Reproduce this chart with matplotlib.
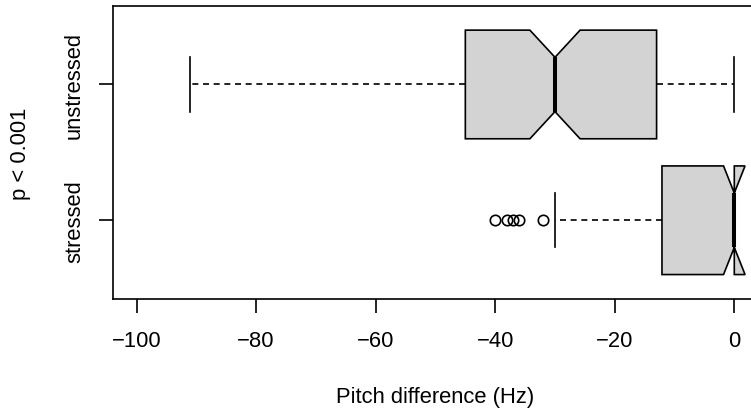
import matplotlib
matplotlib.use("Agg")
import matplotlib.pyplot as plt

plt.rcParams['font.family'] = ['Liberation Sans', 'DejaVu Sans']

# data (Hz)
groups = ['stressed', 'unstressed']
whislo = [-30, -91]
q1 = [-12.1, -45]
med = [0, -30]
q3 = [0, -13]
whishi = [0, 0]
cilo = [-1.8, -34.2]
cihi = [1.8, -25.8]
fliers = [[-40, -38, -37, -36, -32], []]
xticks = [-100, -80, -60, -40, -20, 0]

stats = []
for i, g in enumerate(groups):
    stats.append(dict(label=g, whislo=whislo[i], q1=q1[i], med=med[i], q3=q3[i],
                      whishi=whishi[i], cilo=cilo[i], cihi=cihi[i], fliers=fliers[i]))

fig = plt.figure(figsize=(7.51, 4.10), dpi=100)
ax = fig.add_axes([112.7 / 751, 110 / 410, 645.5 / 751, 293.3 / 410])

lw = 1.2
ax.bxp(stats, positions=[1, 2], widths=0.8, orientation='horizontal',
       shownotches=True, patch_artist=True,
       boxprops=dict(facecolor='#d3d3d3', edgecolor='black', linewidth=lw),
       medianprops=dict(color='black', linewidth=2.9, solid_capstyle='butt'),
       whiskerprops=dict(color='black', linewidth=lw, linestyle=(0, (3.6, 2.8))),
       capprops=dict(color='black', linewidth=lw),
       flierprops=dict(marker='o', markersize=7.5, markerfacecolor='none',
                       markeredgecolor='black', markeredgewidth=lw))

ax.set_xlim(-104, 4)
ax.set_ylim(0.42, 2.58)
ax.set_xticks(xticks)
ax.set_xticklabels([str(v).replace('-', '\u2212') for v in xticks], fontsize=15.8)
ax.set_yticks([1, 2])
ax.set_yticklabels(groups, fontsize=15.8, rotation=90, va='center')
ax.tick_params(axis='both', length=10, width=lw, color='black')
ax.tick_params(axis='x', pad=12)
ax.tick_params(axis='y', pad=10)
for s in ax.spines.values():
    s.set_linewidth(lw)

ax.set_xlabel('Pitch difference (Hz)', fontsize=15.8, va='baseline')
ax.xaxis.set_label_coords(0.5, -0.3495)
ax.set_ylabel('p < 0.001', fontsize=15.8)
ax.yaxis.set_label_coords(-0.1258, 0.5)

fig.savefig('out.png', dpi=100)
